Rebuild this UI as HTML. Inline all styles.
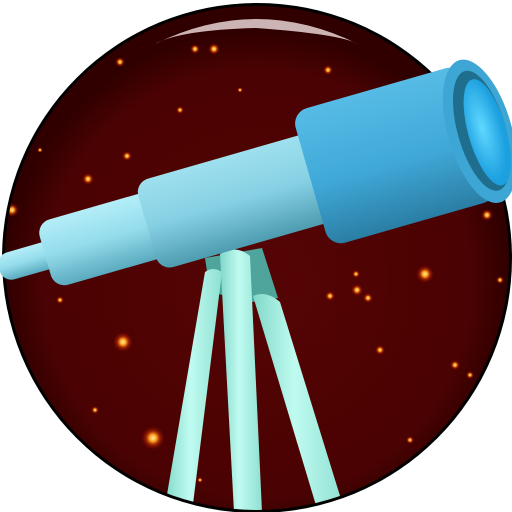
<!DOCTYPE html>
<html><head><meta charset="utf-8"><style>html,body{margin:0;padding:0;background:#fff}svg{display:block}</style></head>
<body>
<svg width="512" height="512" viewBox="0 0 512 512">
<defs>
<radialGradient id="sky" cx="50%" cy="55%" r="50%">
<stop offset="0" stop-color="#560404"/><stop offset="0.85" stop-color="#4a0202"/><stop offset="1" stop-color="#300000"/>
</radialGradient>
<radialGradient id="star"><stop offset="0" stop-color="#fff2a0"/><stop offset="0.3" stop-color="#ffa020"/><stop offset="0.6" stop-color="#c03000" stop-opacity="0.6"/><stop offset="1" stop-color="#800000" stop-opacity="0"/></radialGradient>
<linearGradient id="tubeBig" x1="0" y1="0" x2="0" y2="1"><stop offset="0" stop-color="#56bce6"/><stop offset="0.55" stop-color="#40a8d8"/><stop offset="1" stop-color="#2a7ea4"/></linearGradient>
<linearGradient id="tube3" x1="0" y1="0" x2="0" y2="1"><stop offset="0" stop-color="#9ee0ee"/><stop offset="0.5" stop-color="#86d0e4"/><stop offset="1" stop-color="#4e9cb0"/></linearGradient>
<linearGradient id="tube2" x1="0" y1="0" x2="0" y2="1"><stop offset="0" stop-color="#b4eef8"/><stop offset="0.5" stop-color="#94dcec"/><stop offset="1" stop-color="#5aaabe"/></linearGradient>
<linearGradient id="leg" x1="0" y1="0" x2="1" y2="0"><stop offset="0" stop-color="#80d8c8"/><stop offset="0.45" stop-color="#c0fbf0"/><stop offset="1" stop-color="#8ee0d2"/></linearGradient>
<radialGradient id="lens" cx="40%" cy="45%"><stop offset="0" stop-color="#60d8ff"/><stop offset="1" stop-color="#1ca0e0"/></radialGradient>
<clipPath id="disc"><circle cx="257" cy="258" r="252"/></clipPath>
</defs>
<circle cx="257" cy="258" r="255" fill="#000"/>
<circle cx="257" cy="258" r="252" fill="url(#sky)"/>
<g clip-path="url(#disc)">
<circle cx="123" cy="342" r="10" fill="url(#star)"/>
<circle cx="153" cy="438" r="12" fill="url(#star)"/>
<circle cx="425" cy="274" r="9" fill="url(#star)"/>
<circle cx="357" cy="290" r="6" fill="url(#star)"/>
<circle cx="330" cy="296" r="5" fill="url(#star)"/>
<circle cx="368" cy="298" r="5" fill="url(#star)"/>
<circle cx="356" cy="274" r="4" fill="url(#star)"/>
<circle cx="12" cy="210" r="7" fill="url(#star)"/>
<circle cx="214" cy="49" r="6" fill="url(#star)"/>
<circle cx="195" cy="49" r="5" fill="url(#star)"/>
<circle cx="120" cy="62" r="5" fill="url(#star)"/>
<circle cx="328" cy="70" r="5" fill="url(#star)"/>
<circle cx="88" cy="179" r="6" fill="url(#star)"/>
<circle cx="127" cy="156" r="5" fill="url(#star)"/>
<circle cx="380" cy="350" r="5" fill="url(#star)"/>
<circle cx="455" cy="365" r="5" fill="url(#star)"/>
<circle cx="470" cy="375" r="4" fill="url(#star)"/>
<circle cx="487" cy="215" r="6" fill="url(#star)"/>
<circle cx="300" cy="440" r="5" fill="url(#star)"/>
<circle cx="410" cy="440" r="4" fill="url(#star)"/>
<circle cx="60" cy="300" r="4" fill="url(#star)"/>
<circle cx="95" cy="410" r="4" fill="url(#star)"/>
<circle cx="180" cy="110" r="4" fill="url(#star)"/>
<circle cx="240" cy="90" r="3" fill="url(#star)"/>
<circle cx="40" cy="150" r="3" fill="url(#star)"/>
<circle cx="500" cy="280" r="4" fill="url(#star)"/>
<circle cx="200" cy="480" r="3" fill="url(#star)"/>
<circle cx="140" cy="13" r="4" fill="url(#star)"/>
</g>
<path d="M155 44 Q256 -6 358 44 Q340 34 256 28 Q180 30 155 44Z" fill="#e8d4d4" opacity="0.85"/>
<g clip-path="url(#disc)">
<path d="M205 258 L262 248 L278 298 L252 302 L210 292 Z" fill="#4fa49c"/>
<path d="M205 272 Q213 266 222 272 L192 512 L164 512 Z" fill="url(#leg)"/>
<path d="M253 296 Q266 290 280 302 L345 512 L318 512 Z" fill="url(#leg)"/>
<path d="M220 254 Q236 244 250 256 L262 512 L234 512 Z" fill="url(#leg)"/>
</g>
<g transform="translate(3,268) rotate(-16)">
<rect x="-4" y="-14" width="60" height="28" rx="12" fill="url(#tube2)"/>
<rect x="44" y="-34" width="120" height="68" rx="14" fill="url(#tube2)"/>
<rect x="150" y="-46" width="190" height="92" rx="14" fill="url(#tube3)"/>
<rect x="320" y="-70" width="176" height="140" rx="16" fill="url(#tubeBig)"/>
<ellipse cx="496" cy="0" rx="32" ry="74" fill="#3ea6d4"/>
<ellipse cx="498" cy="0" rx="24" ry="62" fill="#1f6e8e"/>
<ellipse cx="503" cy="3" rx="19" ry="55" fill="url(#lens)"/>
</g>
</svg>
</body></html>
